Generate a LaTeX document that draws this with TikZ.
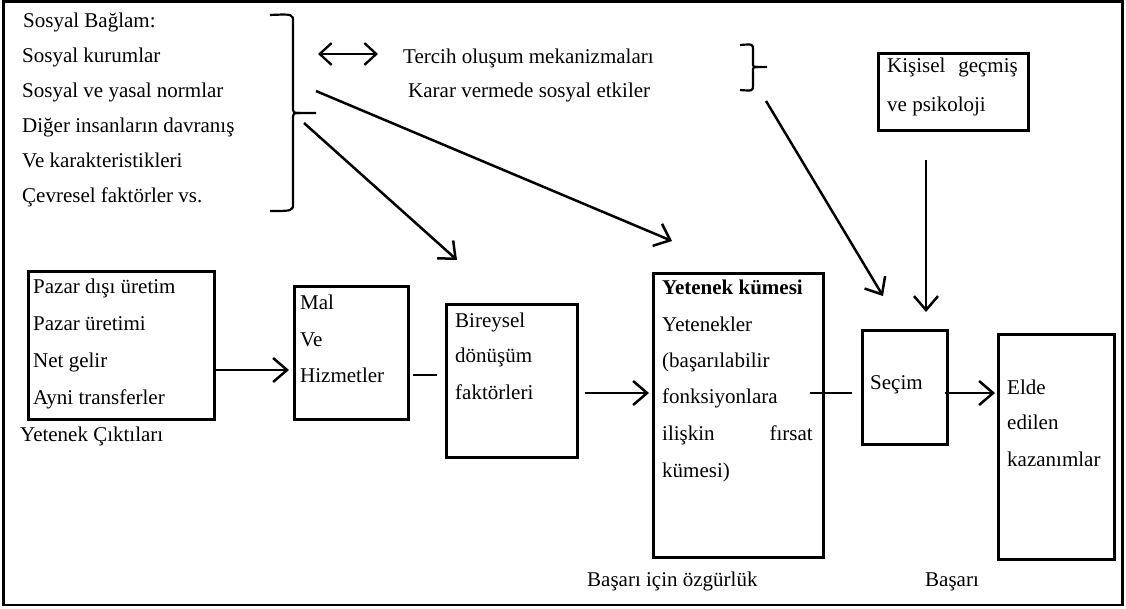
\documentclass[tikz,border=0pt]{standalone}
\usepackage{fontspec}
\setmainfont{Liberation Serif}
\usetikzlibrary{arrows.meta}
\newcommand{\fs}{\fontsize{21}{25}\selectfont}
\begin{document}
\begin{tikzpicture}[x=1pt,y=-1pt,
  box/.style={draw, line width=2.5pt, inner sep=0pt, anchor=north west},
  txt/.style={anchor=base west, inner sep=0pt, font=\fs},
  arr/.style={line width=2.5pt, -{Straight Barb[length=14pt,width=24pt,line width=2.5pt]}},
  dbl/.style={line width=2.3pt, {Straight Barb[length=12pt,width=22pt,line width=2.3pt]}-{Straight Barb[length=12pt,width=22pt,line width=2.3pt]}},
  plain/.style={line width=2.3pt},
  brace/.style={line width=2.2pt}]
\useasboundingbox (0,0) rectangle (1126,608);
\draw[line width=2.3pt] (3.5,1.5) rectangle (1122.5,605);

% left column
\node[txt] (s0) at (23,27) {Sosyal Bağlam:};
\node[txt] (s1) at (22,62) {Sosyal kurumlar};
\node[txt] (s2) at (22,97) {Sosyal ve yasal normlar};
\node[txt] (s3) at (22,132) {Diğer insanların davranış};
\node[txt] (s4) at (22,167) {Ve karakteristikleri};
\node[txt] (s5) at (22,202) {Çevresel faktörler vs.};

% left brace
\draw[brace] (270,15) .. controls (293,14) .. (293,22) -- (293,106) .. controls (293,113) .. (300,113) -- (316,113);
\draw[brace] (300,113) .. controls (293,113) .. (293,120) -- (293,203) .. controls (293,211) .. (270,211);

% double arrow and middle texts
\coordinate (dA) at (318,54);
\coordinate (dB) at (378,54);
\draw[dbl] (dA) -- (dB);
\node[txt] (t1) at (403,63) {Tercih oluşum mekanizmaları};
\node[txt] (t2) at (408,97) {Karar vermede sosyal etkiler};

% right brace
\draw[brace] (740,45) .. controls (753,44) .. (753,50) -- (753,62) .. controls (753,67) .. (758,67) -- (767,67);
\draw[brace] (758,67) .. controls (753,67) .. (753,72) -- (753,85) .. controls (753,91) .. (740,90);

% Kişisel box
\node[box, minimum width=150pt, minimum height=77pt] (kis) at (877,52) {};
\node[txt] (k1) at (887,72) {Kişisel};
\node[txt, anchor=base east] (k1b) at (1018,72) {geçmiş};
\node[txt] (k2) at (887,111) {ve psikoloji};

% boxes bottom row
\node[box, minimum width=186pt, minimum height=148pt] (b1) at (27,270) {};
\node[txt] at (33,293) {Pazar dışı üretim};
\node[txt] at (33,330) {Pazar üretimi};
\node[txt] at (33,367) {Net gelir};
\node[txt] at (33,404) {Ayni transferler};
\node[txt] (yc) at (20,441) {Yetenek Çıktıları};

\node[box, minimum width=114pt, minimum height=133pt] (b2) at (293,285) {};
\node[txt] at (300,309) {Mal};
\node[txt] at (300,346) {Ve};
\node[txt] at (300,382) {Hizmetler};

\node[box, minimum width=131pt, minimum height=153pt] (b3) at (445,303) {};
\node[txt] at (455,327) {Bireysel};
\node[txt] at (455,362) {dönüşüm};
\node[txt] at (455,399) {faktörleri};

\node[box, minimum width=170pt, minimum height=284pt] (b4) at (652,272) {};
\node[txt] at (662,294) {\bfseries Yetenek kümesi};
\node[txt] at (662,331) {Yetenekler};
\node[txt] at (662,367) {(başarılabilir};
\node[txt] at (662,403) {fonksiyonlara};
\node[txt] at (662,440) {ilişkin};
\node[txt, anchor=base east] at (813,440) {fırsat};
\node[txt] at (662,477) {kümesi)};
\node[txt] (bio) at (587,586) {Başarı için özgürlük};

\node[box, minimum width=85pt, minimum height=114pt] (b5) at (861,329) {};
\node[txt] at (870,389) {Seçim};

\node[box, minimum width=116pt, minimum height=225pt] (b6) at (997,333) {};
\node[txt] at (1007,394) {Elde};
\node[txt] at (1007,429) {edilen};
\node[txt] at (1007,466) {kazanımlar};
\node[txt] (bas) at (925,586) {Başarı};

% horizontal connectors
\coordinate (r1) at (0,370);
\coordinate (r2) at (0,375);
\coordinate (r3) at (0,393);
\draw[arr, shorten >=4pt] (b1.east |- r1) -- (b2.west |- r1);
\draw[plain, shorten <=3pt, shorten >=8pt] (b2.east |- r2) -- (b3.west |- r2);
\draw[arr, shorten <=6pt, shorten >=3pt] (b3.east |- r3) -- (b4.west |- r3);
\coordinate (c45) at (810,393);
\draw[plain, shorten >=9pt] (c45) -- (b5.west |- r3);
\draw[arr, shorten <=-4pt, shorten >=2pt] (b5.east |- r3) -- (b6.west |- r3);

% diagonal connectors
\coordinate (a1s) at (316,91);
\coordinate (a1e) at (672,241);
\coordinate (a2s) at (304,123);
\coordinate (a2e) at (457,260);
\coordinate (a3s) at (766,101);
\coordinate (a3e) at (883,296);
\coordinate (a4e) at (926,312);
\draw[arr] (a1s) -- (a1e);
\draw[arr] (a2s) -- (a2e);
\draw[arr] (a3s) -- (a3e);
\draw[arr, shorten <=28pt] (kis.south -| a4e) -- (a4e);
\end{tikzpicture}
\end{document}
